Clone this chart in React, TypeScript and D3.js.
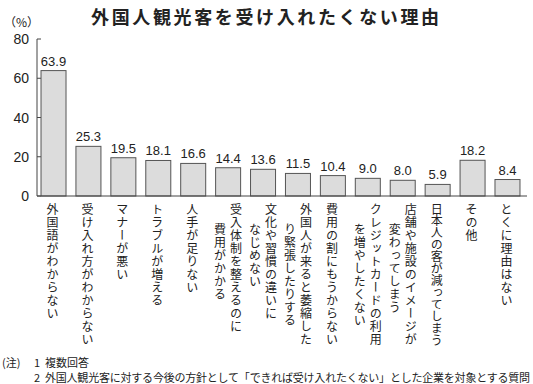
import React from "react";
import * as d3 from "d3";

const title = "外国人観光客を受け入れたくない理由";
const unitLabel = "（%）";
const labelLines: string[][] = [
  ["外国語がわからない"],
  ["受け入れ方がわからない"],
  ["マナーが悪い"],
  ["トラブルが増える"],
  ["人手が足りない"],
  ["受入体制を整えるのに", "費用がかかる"],
  ["文化や習慣の違いに", "なじめない"],
  ["外国人が来ると萎縮した", "り緊張したりする"],
  ["費用の割にもうからない"],
  ["クレジットカードの利用", "を増やしたくない"],
  ["店舗や施設のイメージが", "変わってしまう"],
  ["日本人の客が減ってしまう"],
  ["その他"],
  ["とくに理由はない"],
];
const values = [63.9, 25.3, 19.5, 18.1, 16.6, 14.4, 13.6, 11.5, 10.4, 9.0, 8.0, 5.9, 18.2, 8.4];
const yTicks = [0, 20, 40, 60, 80];
const notes = [
  { head: "(注)", num: "1", text: "複数回答" },
  { head: "", num: "2", text: "外国人観光客に対する今後の方針として「できれば受け入れたくない」とした企業を対象とする質問" },
];

const W = 533;
const H = 384;
const JP = "'Noto Sans CJK JP', 'Noto Sans', sans-serif";
const NUM = "'Liberation Sans', Arial, sans-serif";

export default function App() {
  const idx = values.map((_, i) => String(i));
  const x = d3.scaleBand<string>().domain(idx).range([37, 524]).paddingInner(0.284).paddingOuter(0.115);
  const y = d3.scaleLinear().domain([0, 80]).range([196, 39]);
  const axisX = 37;
  const labelTop = 203;
  const maxLen = 143;

  return (
    <svg width={W} height={H} style={{ position: "absolute", left: 0, top: 0, background: "#fff" }}>
      <text x={265} y={24} textAnchor="middle" fontFamily={JP} fontSize={18} fontWeight={700} fill="#222" textLength={348} lengthAdjust="spacing">
        {title}
      </text>
      <text x={4} y={27} fontFamily={JP} fontSize={12} fill="#222">{unitLabel}</text>

      {/* y axis */}
      <line x1={axisX} x2={axisX} y1={y(80)} y2={y(0)} stroke="#444" strokeWidth={1} />
      {yTicks.map((t) => (
        <g key={t}>
          <line x1={axisX} x2={axisX + 4} y1={y(t)} y2={y(t)} stroke="#444" strokeWidth={1} />
          <text x={29} y={y(t)} dy="0.36em" textAnchor="end" fontFamily={NUM} fontSize={14} fill="#222">{t}</text>
        </g>
      ))}

      {/* bars */}
      {values.map((v, i) => (
        <g key={i}>
          <rect x={x(String(i))} y={y(v)} width={x.bandwidth()} height={y(0) - y(v)} fill="#dcdcdc" stroke="#555" strokeWidth={1} />
          <text x={(x(String(i)) as number) + x.bandwidth() / 2} y={y(v) - 5} textAnchor="middle" fontFamily={NUM} fontSize={13} fill="#222">
            {v.toFixed(1)}
          </text>
        </g>
      ))}
      <line x1={axisX} x2={527} y1={y(0)} y2={y(0)} stroke="#444" strokeWidth={1} />

      {/* category labels (vertical) */}
      {labelLines.map((lines, i) => {
        const cx = (x(String(i)) as number) + x.bandwidth() / 2;
        return lines.map((line, j) => {
          const n = [...line].length;
          const pitch = Math.min(13, maxLen / n);
          const colX = lines.length === 1 ? cx - 1 : cx + (j === 0 ? 8 : -8);
          const top = labelTop + (j === 0 ? 0 : 20);
          return (
            <text
              key={`${i}-${j}`}
              x={colX}
              y={top}
              fontFamily={JP}
              fontSize={12}
              fill="#222"
              style={{ writingMode: "vertical-rl" as any, letterSpacing: `${pitch - 12}px` }}
            >
              {line}
            </text>
          );
        });
      })}

      {/* notes */}
      {notes.map((nt, i) => (
        <g key={i}>
          {nt.head && <text x={2} y={367 + i * 15} fontFamily={JP} fontSize={11} fill="#222">{nt.head}</text>}
          <text x={34} y={367 + i * 15} fontFamily={JP} fontSize={11} fill="#222">{nt.num}</text>
          <text x={45} y={367 + i * 15} fontFamily={JP} fontSize={11} fill="#222" {...(i === 1 ? { textLength: 485, lengthAdjust: "spacing" } : {})}>{nt.text}</text>
        </g>
      ))}
    </svg>
  );
}
